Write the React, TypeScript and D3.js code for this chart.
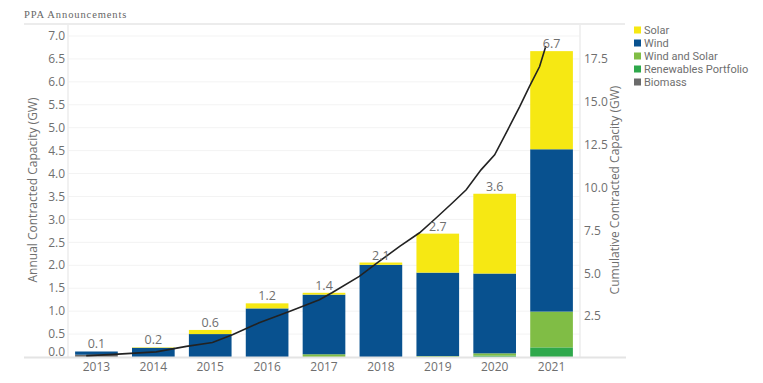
import React from "react";
import * as d3 from "d3";

const years = ["2013", "2014", "2015", "2016", "2017", "2018", "2019", "2020", "2021"];
const seriesNames = ["Biomass", "Renewables Portfolio", "Wind and Solar", "Wind", "Solar"];
const biomass = [0.05, 0, 0, 0, 0, 0, 0, 0, 0];
const renewablesPortfolio = [0, 0, 0, 0, 0, 0, 0, 0.03, 0.21];
const windAndSolar = [0, 0, 0, 0, 0.06, 0, 0.02, 0.05, 0.78];
const wind = [0.07, 0.2, 0.5, 1.06, 1.3, 2.01, 1.82, 1.74, 3.54];
const solar = [0, 0.01, 0.09, 0.11, 0.04, 0.05, 0.85, 1.74, 2.14];
const totalLabels = ["0.1", "0.2", "0.6", "1.2", "1.4", "2.1", "2.7", "3.6", "6.7"];

// cumulative line: position along year axis, cumulative GW
const cumPos = [2012.82, 2013.23, 2014.05, 2014.58, 2015.04, 2015.39, 2015.86, 2016.39, 2016.92, 2017.14, 2017.62, 2017.97, 2018.33, 2018.68, 2018.97, 2019.26, 2019.5, 2019.76, 2020.0, 2020.2, 2020.44, 2020.61, 2020.79, 2020.9];
const cumVal = [0.2, 0.26, 0.42, 0.74, 0.97, 1.42, 2.12, 2.78, 3.46, 3.87, 4.82, 5.7, 6.57, 7.37, 8.23, 9.12, 9.88, 11.04, 11.92, 13.18, 14.73, 15.9, 17.07, 18.27];

const leftTicks = [0, 0.5, 1, 1.5, 2, 2.5, 3, 3.5, 4, 4.5, 5, 5.5, 6, 6.5, 7];
const rightTicks = [2.5, 5, 7.5, 10, 12.5, 15, 17.5];

const legendNames = ["Solar", "Wind", "Wind and Solar", "Renewables Portfolio", "Biomass"];
const colors: Record<string, string> = {
  Solar: "#f6e813",
  Wind: "#08518f",
  "Wind and Solar": "#80bd45",
  "Renewables Portfolio": "#2ea84b",
  Biomass: "#6b6b6b",
};

export default function App() {
  const W = 763, H = 383;
  const plotL = 68, plotR = 580, plotT = 36, plotB = 357;
  const x = d3.scaleBand<string>().domain(years).range([plotL, plotR]).paddingInner(0.25).paddingOuter(0.125);
  const y = d3.scaleLinear().domain([0, 7]).range([plotB, plotT]);
  const yR = d3.scaleLinear().domain([0.12, 18.85]).range([plotB, plotT]);
  const c0 = (x(years[0]) as number) + x.bandwidth() / 2;
  const c1 = (x(years[years.length - 1]) as number) + x.bandwidth() / 2;
  const xYear = d3.scaleLinear().domain([2013, 2021]).range([c0, c1]);

  const rows = years.map((yr, i) => ({
    year: yr,
    Biomass: biomass[i],
    "Renewables Portfolio": renewablesPortfolio[i],
    "Wind and Solar": windAndSolar[i],
    Wind: wind[i],
    Solar: solar[i],
  }));
  const stacked = d3.stack<any>().keys(seriesNames)(rows);
  const totals = rows.map((r) => seriesNames.reduce((s, k) => s + (r as any)[k], 0));

  const line = d3
    .line<number>()
    .x((_, i) => xYear(cumPos[i]))
    .y((v) => yR(v))
    .curve(d3.curveLinear);

  const font = "'Open Sans', 'Segoe UI', sans-serif";
  const textColor = "#6f6f6f";

  return (
    <svg width={W} height={H} style={{ display: "block", position: "absolute", left: 0, top: 0 }} fontFamily={font}>
      <rect x={0} y={0} width={W} height={H} fill="#fff" />
      <text x={24} y={18} fontFamily="'Liberation Serif', serif" fontSize={10.5} fill="#666" letterSpacing={0.9}>
        PPA Announcements
      </text>
      <line x1={24} x2={625} y1={24} y2={24} stroke="#ececec" strokeWidth={2} />
      {leftTicks.filter((t) => t > 0).map((t) => (
        <line key={t} x1={plotL} x2={plotR} y1={y(t)} y2={y(t)} stroke="#f3f3f3" strokeWidth={1} />
      ))}
      <line x1={plotL} x2={plotL} y1={25} y2={plotB} stroke="#ececec" strokeWidth={1.5} />
      <line x1={plotR} x2={plotR} y1={25} y2={plotB} stroke="#ececec" strokeWidth={1.5} />
      {stacked.map((s) => (
        <g key={s.key} fill={colors[s.key]}>
          {s.map((d, i) =>
            d[1] - d[0] > 0 ? (
              <rect
                key={i}
                x={x(years[i])}
                width={x.bandwidth()}
                y={y(d[1])}
                height={y(d[0]) - y(d[1])}
              />
            ) : null
          )}
        </g>
      ))}
      <line x1={24} x2={626} y1={plotB + 0.5} y2={plotB + 0.5} stroke="#e4e4e4" strokeWidth={2} />
      <path d={line(cumVal) || ""} fill="none" stroke="#222" strokeWidth={1.6} />
      {years.map((yr, i) => (
        <text
          key={yr}
          x={(x(yr) as number) + x.bandwidth() / 2}
          y={y(totals[i]) - 3}
          textAnchor="middle"
          fontSize={12.5}
          fill={textColor}
        >
          {totalLabels[i]}
        </text>
      ))}
      {leftTicks.map((t) => (
        <text
          key={t}
          x={65}
          y={t === 0 ? y(t) - 5 : y(t)}
          dy="0.35em"
          textAnchor="end"
          fontSize={12}
          fill={textColor}
        >
          {t.toFixed(1)}
        </text>
      ))}
      {rightTicks.map((t) => (
        <text key={t} x={584} y={yR(t)} dy="0.35em" textAnchor="start" fontSize={12} fill={textColor}>
          {t.toFixed(1)}
        </text>
      ))}
      {years.map((yr) => (
        <text
          key={yr}
          x={(x(yr) as number) + x.bandwidth() / 2}
          y={367}
          dy="0.35em"
          textAnchor="middle"
          fontSize={12}
          fill={textColor}
        >
          {yr}
        </text>
      ))}
      <text
        transform={`translate(33,190) rotate(-90)`}
        textAnchor="middle"
        dy="0.35em"
        fontSize={12}
        fill={textColor}
      >
        Annual Contracted Capacity (GW)
      </text>
      <text
        transform={`translate(615,190) rotate(-90)`}
        textAnchor="middle"
        dy="0.35em"
        fontSize={12}
        fill={textColor}
      >
        Cumulative Contracted Capacity (GW)
      </text>
      {legendNames.map((n, i) => (
        <g key={n} transform={`translate(634, ${30 + i * 13})`}>
          <rect x={0} y={-3.5} width={7} height={7} fill={colors[n]} />
          <text x={10} y={0} dy="0.35em" fontFamily="Roboto, sans-serif" fontSize={11} fill={textColor}>
            {n}
          </text>
        </g>
      ))}
    </svg>
  );
}
